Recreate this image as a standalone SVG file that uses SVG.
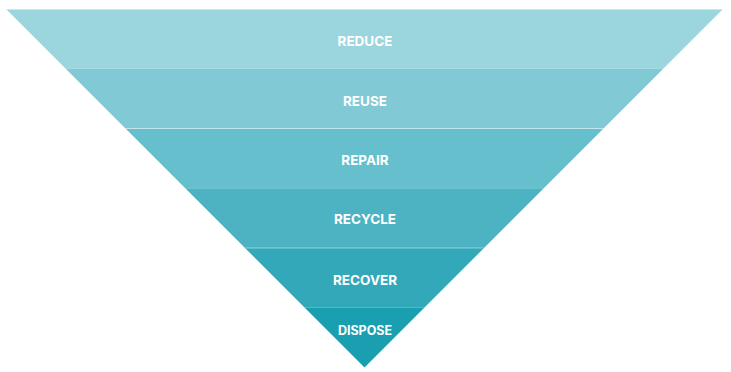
<svg xmlns="http://www.w3.org/2000/svg" width="731" height="372" viewBox="0 0 731 372">
<style>
.lbl{font-family:Inter,"Open Sans","Liberation Sans",sans-serif;font-weight:700;font-size:13.5px;fill:#ffffff;text-anchor:middle}
.sep{stroke:#ffffff;stroke-opacity:0.45;stroke-width:1}
</style>
<rect width="731" height="372" fill="#ffffff"/>
<g id="reduce">
<polygon points="6,9 723,9 663.25,68.75 65.75,68.75" fill="#9bd5de"/>
<text class="lbl" x="365" y="46">REDUCE</text>
</g>
<g id="reuse">
<polygon points="65.75,68.75 663.25,68.75 603.5,128.5 125.5,128.5" fill="#80c9d5"/>
<text class="lbl" x="365" y="106">REUSE</text>
</g>
<g id="repair">
<polygon points="125.5,128.5 603.5,128.5 543.75,188.25 185.25,188.25" fill="#66bfcd"/>
<text class="lbl" x="365" y="165">REPAIR</text>
</g>
<g id="recycle">
<polygon points="185.25,188.25 543.75,188.25 484,248 245,248" fill="#4db3c3"/>
<text class="lbl" x="365" y="224">RECYCLE</text>
</g>
<g id="recover">
<polygon points="245,248 484,248 424.25,307.75 304.75,307.75" fill="#33a8b9"/>
<text class="lbl" x="365" y="285">RECOVER</text>
</g>
<g id="dispose">
<polygon points="304.75,307.75 424.25,307.75 364.5,367.5" fill="#1a9fb1"/>
<text class="lbl" x="365" y="335" style="font-size:12.5px">DISPOSE</text>
</g>
<g id="separators">
<line class="sep" x1="6" y1="9.5" x2="723" y2="9.5"/>
<line class="sep" x1="126" y1="128.5" x2="603" y2="128.5"/>
<line class="sep" x1="245.5" y1="248" x2="483.5" y2="248"/>
</g>
</svg>
